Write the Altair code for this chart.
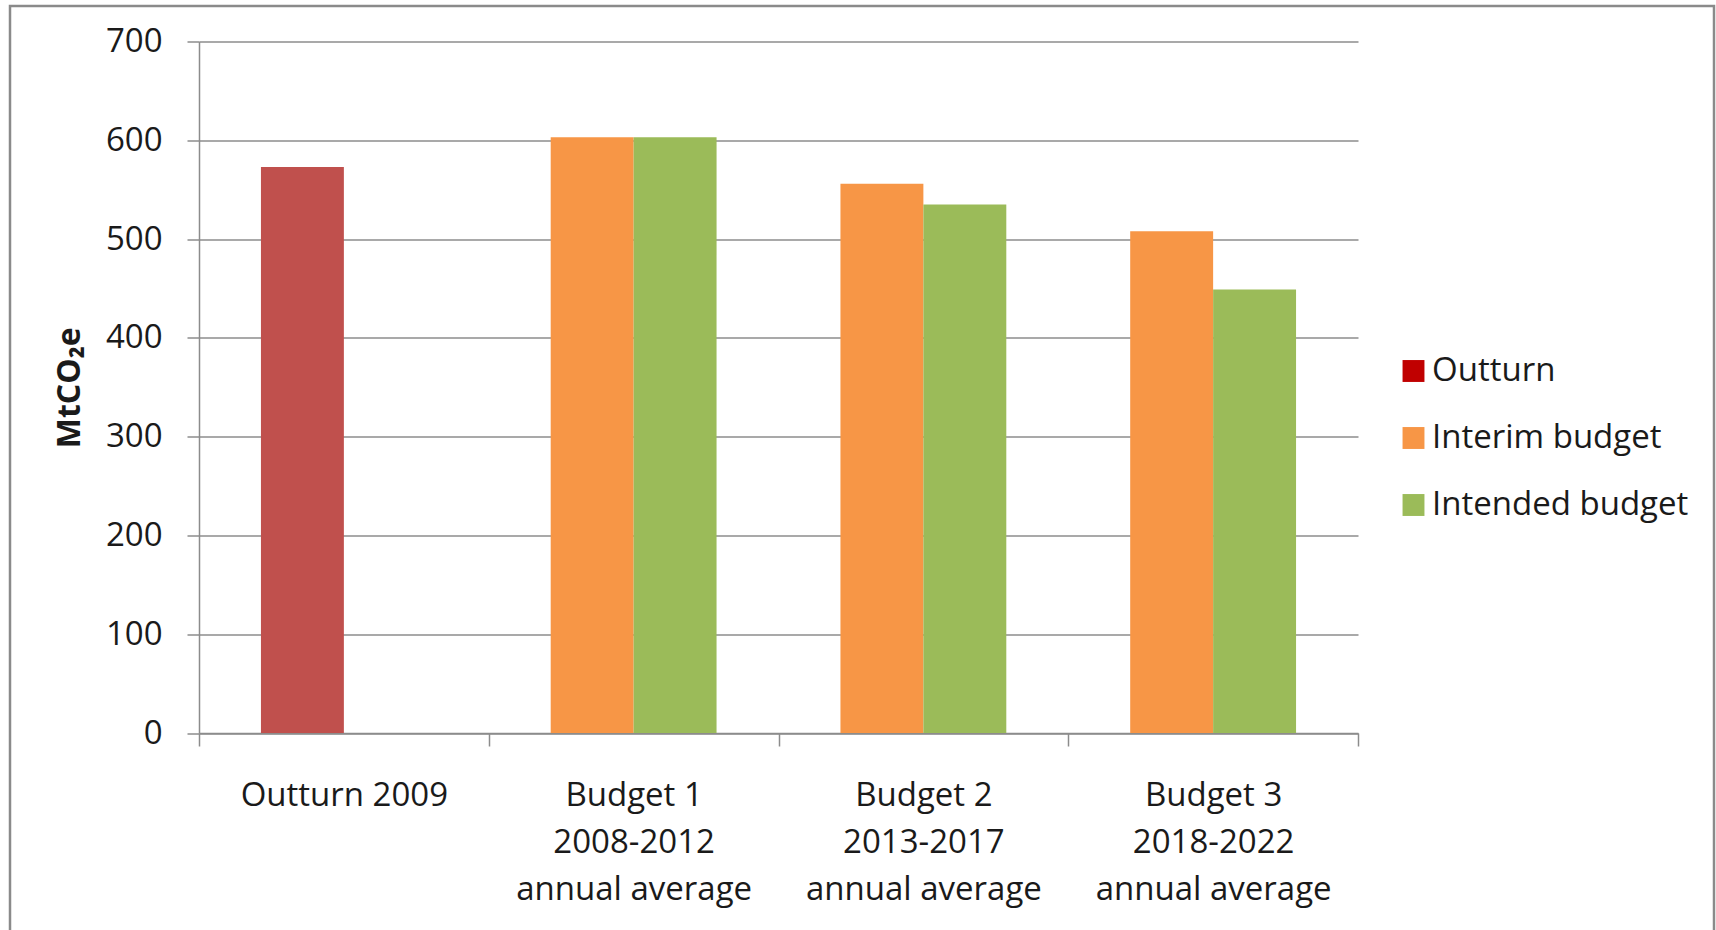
import altair as alt
import pandas as pd

categories = ["Outturn 2009", "Budget 1\n2008-2012\nannual average",
              "Budget 2\n2013-2017\nannual average", "Budget 3\n2018-2022\nannual average"]
series_names = ["Outturn", "Interim budget", "Intended budget"]
bar_colors = ["#C0504D", "#F79646", "#9BBB59"]
legend_colors = ["#C00000", "#F79646", "#9BBB59"]

outturn_values = [573]
interim_values = [603, 556, 508]
intended_values = [603, 535, 449]

rows = [{"cat": categories[0], "slot": 0, "series": "Outturn", "value": outturn_values[0]}]
for i, v in enumerate(interim_values):
    rows.append({"cat": categories[i + 1], "slot": 0, "series": "Interim budget", "value": v})
for i, v in enumerate(intended_values):
    rows.append({"cat": categories[i + 1], "slot": 1, "series": "Intended budget", "value": v})
df = pd.DataFrame(rows)

FONT = "Open Sans"
GRAY = "#8c8c8c"
TXT = "#1a1a1a"

W, H = 1159, 691.5
PL, PT = 199, 41.5

x_enc = alt.X("cat:N", sort=categories,
              scale=alt.Scale(paddingInner=0, paddingOuter=0),
              axis=alt.Axis(title=None, labelExpr="split(datum.label, '\\n')",
                            labelAngle=0, labelFontSize=33, labelFont=FONT, labelColor=TXT,
                            labelLineHeight=47, labelPadding=33, labelBaseline="top",
                            labelLimit=0,
                            tickBand="extent", tickSize=13, tickColor=GRAY, tickWidth=1.5,
                            domainColor=GRAY, domainWidth=1.5, grid=False))
y_enc = alt.Y("value:Q", scale=alt.Scale(domain=[0, 700], nice=False),
              axis=alt.Axis(title="MtCO₂e", values=list(range(0, 701, 100)),
                            titleFont=FONT, titleFontSize=32, titleFontWeight="bold", titleColor=TXT,
                            titleAngle=-90, titleX=-120, titleY=H / 2, titleAlign="center",
                            titleBaseline="alphabetic",
                            labelFont=FONT, labelFontSize=33, labelColor=TXT, labelPadding=25,
                            tickSize=12, tickColor=GRAY, tickWidth=1.5,
                            domainColor=GRAY, domainWidth=1.5,
                            grid=True, gridColor=GRAY, gridWidth=1.5))

bars = alt.Chart(df).mark_bar().encode(
    x=x_enc,
    xOffset=alt.XOffset("slot:O", scale=alt.Scale(domain=[0, 1], paddingInner=0, paddingOuter=0.747)),
    y=y_enc,
    fill=alt.Fill("series:N", scale=alt.Scale(domain=series_names, range=bar_colors), legend=None),
)

legend_layer = alt.Chart(df).transform_calculate(lg="datum.series").mark_square(
    filled=True, opacity=0, size=1
).encode(
    x=alt.X("cat:N", sort=categories),
    y=alt.Y("value:Q"),
    color=alt.Color("lg:N", scale=alt.Scale(domain=series_names, range=legend_colors),
                    legend=alt.Legend(title=None, orient="none", legendX=1198, legendY=313,
                                      symbolType="square", symbolSize=480, symbolStrokeWidth=0,
                                      symbolOpacity=1,
                                      labelFont=FONT, labelFontSize=33, labelColor=TXT,
                                      labelLimit=0,
                                      labelOffset=2, rowPadding=33)),
)

border = alt.Chart(pd.DataFrame({"k": [0]})).mark_rect(
    filled=False, stroke="#8a8a8a", strokeWidth=2.5
).encode(
    x=alt.value(10 - PL), x2=alt.value(1714 - PL),
    y=alt.value(6 - PT), y2=alt.value(1000),
)

chart = alt.layer(border, bars, legend_layer).resolve_scale(color="independent", fill="independent").properties(
    width=W, height=H,
    autosize=alt.AutoSizeParams(type="none"),
    padding={"left": PL, "top": PT, "right": 1716 - PL - W, "bottom": 930 - PT - H},
    background="white",
).configure_view(stroke=None)

chart.save("out.html", embed_options={"renderer": "svg", "actions": False})
